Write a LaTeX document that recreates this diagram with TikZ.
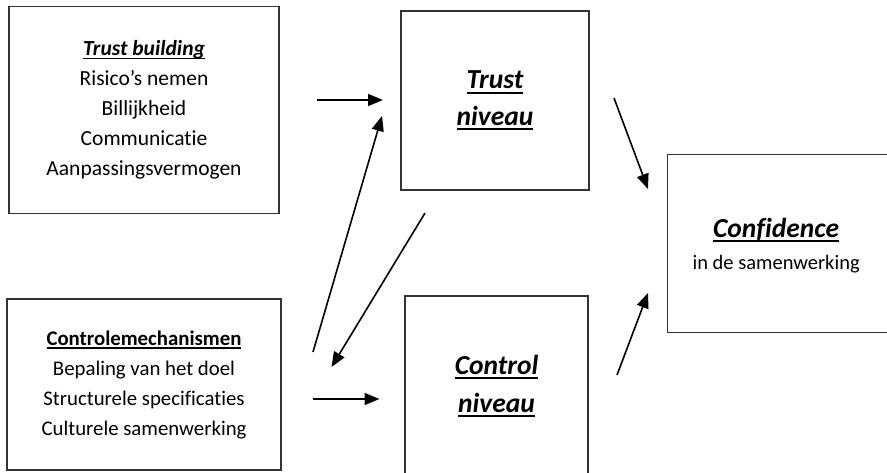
\documentclass[tikz,border=0pt]{standalone}
\usepackage{fontspec}
\setmainfont{Carlito}[Ligatures=NoCommon]
\usetikzlibrary{arrows.meta}
\newcommand\myul[1]{\leavevmode\setbox0\hbox{#1}\rlap{\rule[-0.17em]{\wd0}{0.07em}}\box0}
\begin{document}
\begin{tikzpicture}[x=1pt,y=-1pt,
  boxnode/.style={draw=black!80, line width=1.3pt, rectangle, inner sep=0pt, align=center},
  arr/.style={-{Triangle[length=15pt,width=12pt]}, line width=1.6pt, black}]
\useasboundingbox (0,0) rectangle (887,472);
\clip (0,0) rectangle (887,472);
% boxes
\node[boxnode, minimum width=270pt, minimum height=207pt,
  font=\fontsize{21.5}{30}\selectfont] (tb) at (144,110)
  {\myul{\bfseries\itshape Trust building}\\Risico’s nemen\\Billijkheid\\Communicatie\\Aanpassingsvermogen};
\node[boxnode, minimum width=274pt, minimum height=171pt,
  font=\fontsize{20.8}{30}\selectfont] (cm) at (144,384.5)
  {\myul{\bfseries Controlemechanismen}\\Bepaling van het doel\\Structurele specificaties\\Culturele samenwerking};
\node[boxnode, minimum width=188pt, minimum height=179pt,
  font=\fontsize{27.5}{36.5}\selectfont\bfseries\itshape] (tn) at (495,100.5)
  {\myul{Trust}\\\myul{niveau}};
\node[boxnode, minimum width=183pt, minimum height=180pt,
  font=\fontsize{27.5}{38.5}\selectfont\bfseries\itshape] (cn) at (496.5,386)
  {\myul{Control}\\\myul{niveau}};
\node[boxnode, minimum width=230pt, minimum height=178pt,
  font=\fontsize{20.5}{35}\selectfont, anchor=west] (cf) at (667,243.7)
  {\hspace*{-3pt}\raisebox{-3pt}[\height][\depth]{\begin{tabular}{@{}c@{}}{\fontsize{27.5}{35}\selectfont\bfseries\itshape\myul{Confidence}}\\[-3pt]in de samenwerking\end{tabular}}\hspace*{10pt}};
% arrow end points
\coordinate (a1s) at (316.7,100);
\coordinate (a1e) at (383,100);
\coordinate (a2s) at (313,352);
\coordinate (a2e) at (382,116);
\coordinate (a3s) at (425,213);
\coordinate (a3e) at (331.5,367);
\coordinate (a4s) at (312.7,399);
\coordinate (a4e) at (379.5,399);
\coordinate (a5s) at (614,98);
\coordinate (a5e) at (648,189);
\coordinate (a6s) at (617,375);
\coordinate (a6e) at (648,293);
\draw[arr] (a1s) -- (a1e);
\draw[arr] (a2s) -- (a2e);
\draw[arr] (a3s) -- (a3e);
\draw[arr] (a4s) -- (a4e);
\draw[arr] (a5s) -- (a5e);
\draw[arr] (a6s) -- (a6e);
\end{tikzpicture}
\end{document}
